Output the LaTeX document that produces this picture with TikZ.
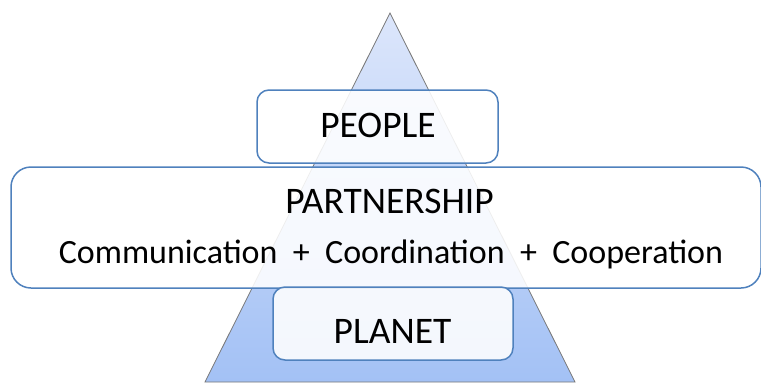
\documentclass[tikz,border=0pt]{standalone}
\usepackage{fontspec}
\setmainfont{Carlito}
\definecolor{boxblue}{RGB}{79,129,189}
\definecolor{tritop}{RGB}{220,230,251}
\definecolor{tribot}{RGB}{163,193,245}
\definecolor{triedge}{RGB}{120,120,120}
\begin{document}
\begin{tikzpicture}[x=1pt,y=-1pt,
  box/.style={draw=boxblue, line width=1.5pt, fill=white, fill opacity=0.88, text opacity=1, inner sep=0pt},
  lbl/.style={anchor=base, inner sep=0pt, font=\fontsize{37.5}{42}\selectfont},
  lblsm/.style={anchor=base, inner sep=0pt, font=\fontsize{34}{40}\selectfont}]
\useasboundingbox (0,0) rectangle (761,384);
\shade[top color=tritop, bottom color=tribot, draw=triedge, line width=0.8pt]
  (390,13) -- (575,382) -- (205,382) -- cycle;
\node[box, rounded corners=12pt, minimum width=241pt, minimum height=73pt] (people) at (377.5,126.5) {};
\node[box, rounded corners=20pt, minimum width=750pt, minimum height=121pt] (partner) at (386,227.5) {};
\node[box, rounded corners=12pt, minimum width=240pt, minimum height=73pt] (planet) at (393,323.5) {};
\node[lbl] (tpeople) at (378,137) {PEOPLE};
\node[lbl] (tpartner) at (389.5,213) {PARTNERSHIP};
\node[lblsm] (tcomm) at (391,263) {Communication~~+~~Coordination~~+~~Cooperation};
\node[lbl] (tplanet) at (392.5,343) {PLANET};
\end{tikzpicture}
\end{document}
